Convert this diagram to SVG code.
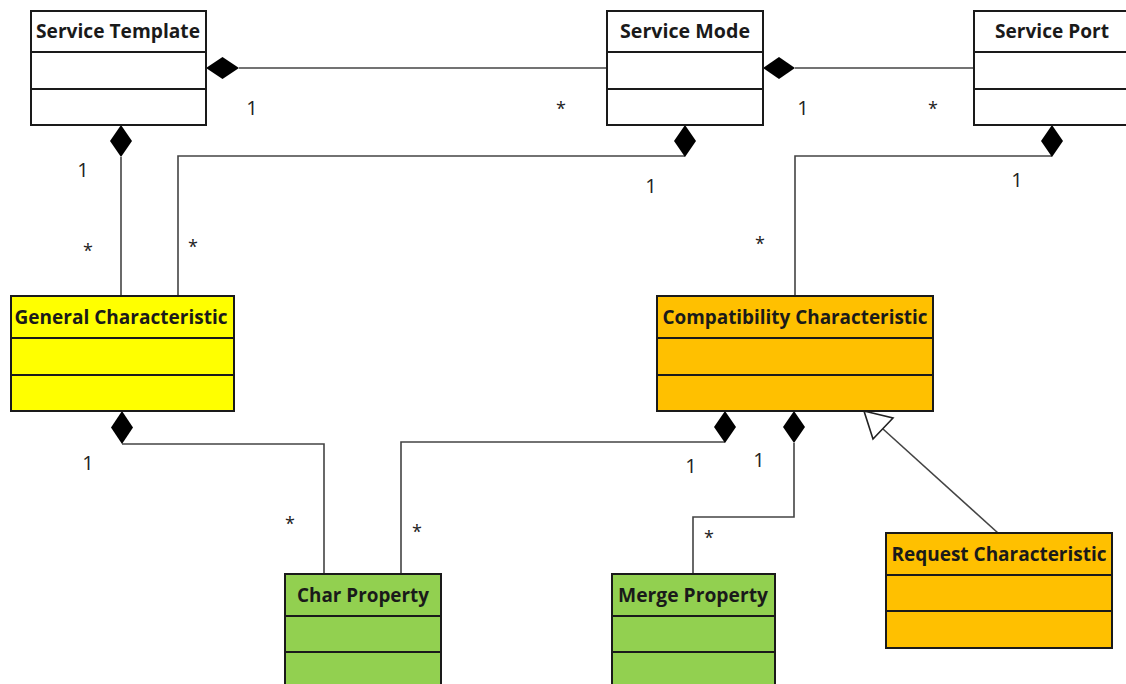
<svg xmlns="http://www.w3.org/2000/svg" width="1126" height="684" viewBox="0 0 1126 684">
<style>
.box{stroke:#1a1a1a;stroke-width:2}
.div{stroke:#1a1a1a;stroke-width:2}
.t{font-family:"Open Sans","Liberation Sans",sans-serif;font-weight:700;font-size:20px;fill:#1a1a1a;text-anchor:middle}
.m{font-family:"Open Sans","Liberation Sans",sans-serif;font-size:20px;fill:#222;text-anchor:middle}
.s{font-family:"Open Sans","Liberation Sans",sans-serif;font-size:18px;fill:#222;text-anchor:middle}
.c{fill:none;stroke:#444;stroke-width:1.6}
.d{fill:#000;stroke:none}
</style>
<rect width="1126" height="684" fill="#fff"/>
<g id="connectors">
  <path class="c" d="M239,68H607"/>
  <path class="d" d="M206,68 L222.5,57 L239,68 L222.5,79 Z"/>
  <path class="c" d="M795,68H974"/>
  <path class="d" d="M763,68 L779,57 L795,68 L779,79 Z"/>
  <path class="c" d="M121,157V296"/>
  <path class="d" d="M121,125 L132,141 L121,157 L110,141 Z"/>
  <path class="c" d="M685,156H178V296"/>
  <path class="d" d="M685,125 L696,141 L685,157 L674,141 Z"/>
  <path class="c" d="M1052,156H795V296"/>
  <path class="d" d="M1052,125 L1063,141 L1052,157 L1041,141 Z"/>
  <path class="c" d="M122,444H324V574"/>
  <path class="d" d="M122,411 L133,427.5 L122,444 L111,427.5 Z"/>
  <path class="c" d="M725,442H401V574"/>
  <path class="d" d="M725,411 L736,427 L725,443 L714,427 Z"/>
  <path class="c" d="M794,443V517H693V574"/>
  <path class="d" d="M794,411 L805,427 L794,443 L783,427 Z"/>
  <path class="c" d="M883,429L998,533"/>
  <path d="M864,411 L893,418 L873,439 Z" fill="#fff" stroke="#222" stroke-width="1.6"/>
</g>
<g id="labels">
  <text class="m" x="252" y="115">1</text>
  <text class="s" x="561" y="115">*</text>
  <text class="m" x="803" y="115">1</text>
  <text class="s" x="933" y="115">*</text>
  <text class="m" x="83" y="177">1</text>
  <text class="s" x="88" y="257">*</text>
  <text class="s" x="193" y="253">*</text>
  <text class="m" x="651" y="193">1</text>
  <text class="m" x="1017" y="187">1</text>
  <text class="s" x="760" y="250">*</text>
  <text class="m" x="88" y="470">1</text>
  <text class="s" x="290" y="530">*</text>
  <text class="s" x="417" y="538">*</text>
  <text class="m" x="691" y="473">1</text>
  <text class="m" x="759" y="467">1</text>
  <text class="s" x="709" y="544">*</text>
</g>
<g id="service-template">
  <rect class="box" x="31" y="11" width="175" height="114" fill="#fff"/>
  <path class="div" d="M31,52H206M31,89H206"/>
  <text class="t" x="118" y="38" textLength="164" lengthAdjust="spacingAndGlyphs">Service Template</text>
</g>
<g id="service-mode">
  <rect class="box" x="607" y="11" width="156" height="114" fill="#fff"/>
  <path class="div" d="M607,52H763M607,89H763"/>
  <text class="t" x="685" y="38" textLength="130" lengthAdjust="spacingAndGlyphs">Service Mode</text>
</g>
<g id="service-port">
  <rect class="box" x="974" y="11" width="160" height="114" fill="#fff"/>
  <path class="div" d="M974,52H1134M974,89H1134"/>
  <text class="t" x="1052" y="38" textLength="114" lengthAdjust="spacingAndGlyphs">Service Port</text>
</g>
<g id="general-characteristic">
  <rect class="box" x="11" y="296" width="223" height="115" fill="#ffff00"/>
  <path class="div" d="M11,338H234M11,375H234"/>
  <text class="t" x="121" y="324" textLength="213" lengthAdjust="spacingAndGlyphs">General Characteristic</text>
</g>
<g id="compatibility-characteristic">
  <rect class="box" x="657" y="296" width="276" height="115" fill="#ffc000"/>
  <path class="div" d="M657,338H933M657,375H933"/>
  <text class="t" x="795" y="324" textLength="265" lengthAdjust="spacingAndGlyphs">Compatibility Characteristic</text>
</g>
<g id="char-property">
  <rect class="box" x="285" y="574" width="156" height="130" fill="#92d050"/>
  <path class="div" d="M285,616H441M285,652H441"/>
  <text class="t" x="363" y="602" textLength="132" lengthAdjust="spacingAndGlyphs">Char Property</text>
</g>
<g id="merge-property">
  <rect class="box" x="612" y="574" width="163" height="130" fill="#92d050"/>
  <path class="div" d="M612,616H775M612,652H775"/>
  <text class="t" x="693" y="602" textLength="150" lengthAdjust="spacingAndGlyphs">Merge Property</text>
</g>
<g id="request-characteristic">
  <rect class="box" x="886" y="533" width="226" height="115" fill="#ffc000"/>
  <path class="div" d="M886,575H1112M886,611H1112"/>
  <text class="t" x="999" y="561" textLength="215" lengthAdjust="spacingAndGlyphs">Request Characteristic</text>
</g>
</svg>
